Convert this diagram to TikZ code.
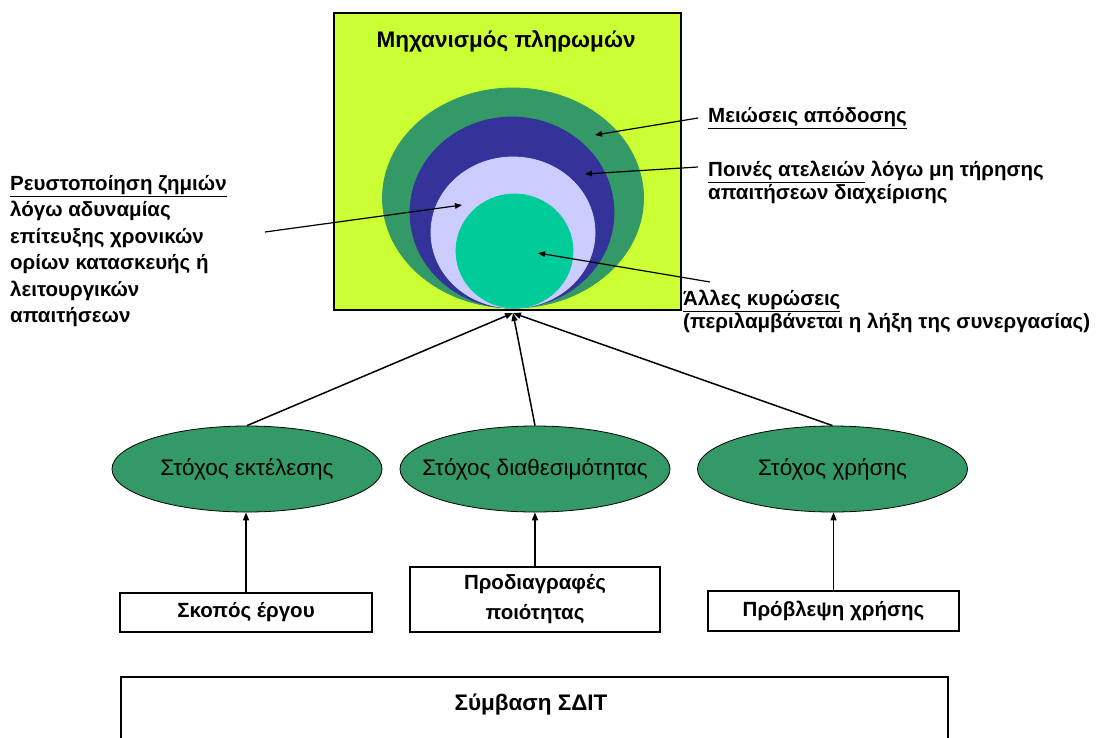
\documentclass[tikz,border=0pt]{standalone}
\usepackage{fontspec}
\setmainfont{Liberation Sans}
\usetikzlibrary{shapes.geometric,arrows.meta}
\definecolor{limebg}{HTML}{CCFF33}
\definecolor{dgreen}{HTML}{339966}
\definecolor{dblue}{HTML}{333399}
\definecolor{lav}{HTML}{CCCCFF}
\definecolor{tealc}{HTML}{00CC99}
\tikzset{
  arr/.style={line width=1.5pt,-{Triangle[length=8pt,width=6pt]}},
  larr/.style={line width=1.2pt,-{Triangle[length=7pt,width=5.5pt]}},
  goal/.style={ellipse,draw,line width=0.8pt,fill=dgreen,minimum width=270pt,minimum height=86pt,inner xsep=-30pt,inner ysep=0pt,font=\fontsize{22.5}{26}\selectfont},
  srcbox/.style={draw,line width=1.5pt,fill=white,inner sep=0pt,align=center,font=\bfseries\fontsize{20.5}{30}\selectfont},
  lab/.style={inner sep=0pt,align=left,font=\bfseries\fontsize{20.5}{23}\selectfont},
  shp/.style={draw,line width=0.8pt}
}
\begin{document}
\begin{tikzpicture}[x=1pt,y=-1pt]
\clip (0,0) rectangle (1099,737);
% payment mechanism box
\node[draw,line width=1.5pt,fill=limebg,minimum width=347pt,minimum height=297pt,inner sep=0pt,anchor=north west] (pm) at (333,12) {};
\node[font=\bfseries\fontsize{22.5}{26}\selectfont] (title) at (506,41) {Μηχανισμός πληρωμών};
\fill[dgreen,shp] (513,198) ellipse [x radius=130.5, y radius=110];
\fill[dblue,shp] (512,212.5) ellipse [x radius=102, y radius=95.5];
\fill[lav,shp] (513,232.5) ellipse [x radius=82, y radius=75.5];
\fill[tealc,shp] (514.5,251) ellipse [x radius=58.5, y radius=57];
% arrow targets
\coordinate (tA) at (595,135);
\coordinate (tB) at (585,174);
\coordinate (tC) at (462,205);
\coordinate (tD) at (538,253);
\coordinate (conv) at (513,313);
% labels
\node[lab,anchor=west] (la) at (708,118) {\underline{Μειώσεις απόδοσης}};
\node[lab,anchor=north west] (lb) at (708,161) {\underline{Ποινές ατελειών} λόγω μη τήρησης\\απαιτήσεων διαχείρισης};
\node[lab,anchor=north west] (lc) at (683,290) {\underline{Άλλες κυρώσεις}\\(περιλαμβάνεται η λήξη της συνεργασίας)};
\node[lab,anchor=north west,font=\bfseries\fontsize{20.5}{26.5}\selectfont] (ld) at (10,175) {\underline{Ρευστοποίηση ζημιών}\\λόγω αδυναμίας\\επίτευξης χρονικών\\ορίων κατασκευής ή\\λειτουργικών\\απαιτήσεων};
\coordinate (sA) at (698,118);
\coordinate (sB) at (698,167);
\coordinate (sC) at (265,232);
\coordinate (sD) at (710,282);
\draw[larr] (sA) -- (tA);
\draw[larr] (sB) -- (tB);
\draw[larr] (sC) -- (tC);
\draw[larr] (sD) -- (tD);
% goals
\node[goal] (e1) at (247,469) {Στόχος εκτέλεσης};
\node[goal] (e2) at (535,469) {Στόχος διαθεσιμότητας};
\node[goal] (e3) at (832.5,469) {Στόχος χρήσης};
\draw[arr] (e1.north) -- (conv);
\draw[arr] (e2.north) -- (conv);
\draw[arr] (e3.north) -- (conv);
% sources
\node[srcbox,minimum width=252pt,minimum height=39pt] (b1) at (246,612.5) {Σκοπός έργου};
\node[srcbox,minimum width=250pt,minimum height=65pt] (b2) at (535,599.5) {Προδιαγραφές\\ποιότητας};
\node[srcbox,minimum width=251pt,minimum height=40pt] (b3) at (833.5,611) {Πρόβλεψη χρήσης};
\draw[arr] (b1.north) -- (b1.north |- e1.south);
\draw[arr] (b2.north) -- (b2.north |- e2.south);
\draw[arr] (b3.north) -- (b3.north |- e3.south);
% contract
\node[draw,line width=1.5pt,minimum width=827pt,minimum height=110pt,anchor=north,inner sep=0pt] (sdit) at (534.5,676) {};
\node[font=\bfseries\fontsize{22.5}{26}\selectfont,inner sep=0pt] (sdittxt) at (531,705) {Σύμβαση ΣΔΙΤ};
\end{tikzpicture}
\end{document}
